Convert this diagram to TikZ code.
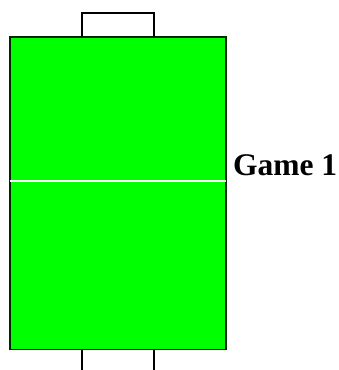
\documentclass[tikz,border=0pt]{standalone}
\usepackage{xcolor}
\usepackage{tikz}
\usepackage{fontspec}
\setmainfont{Liberation Serif}
\usetikzlibrary{positioning}
\definecolor{pitch}{RGB}{0,255,0}
\begin{document}
\begin{tikzpicture}[x=1pt,
			y=-1pt,
			line width=1.2pt]
			
			\useasboundingbox (0,0) rectangle (339,370);
			\draw[fill=pitch, draw=black!85!pitch] (10,37) rectangle (226,349.5);
			\draw[draw=white, line width=1.5pt] (10,181) -- (226,181);
			\draw[black] (82,37) -- (82,13) -- (154,13) -- (154,37);
			\draw[black] (82,349.5) -- (82,372) (154,349.5) -- (154,372);
			\node (game) [anchor=base west, inner sep=0pt] at (232.5,175) {\fontsize{31.5}{36}\selectfont\bfseries Game 1};
		\end{tikzpicture}
\end{document}
